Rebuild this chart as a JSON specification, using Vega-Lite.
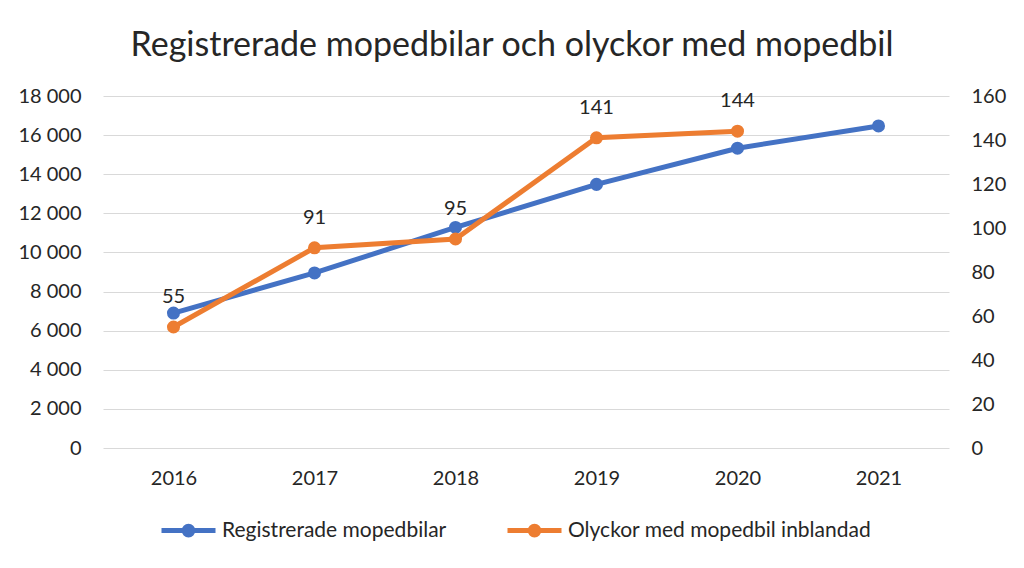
{
  "$schema": "https://vega.github.io/schema/vega-lite/v6.json",
  "width": 846,
  "height": 352,
  "autosize": "none",
  "padding": {"left": 103, "top": 96, "right": 75, "bottom": 120},
  "background": "white",
  "title": {
    "text": "Registrerade mopedbilar och olyckor med mopedbil",
    "font": "Lato",
    "fontSize": 34,
    "fontWeight": "normal",
    "color": "#262626",
    "anchor": "middle",
    "dx": -14,
    "offset": 23
  },
  "config": {
    "view": {"stroke": null},
    "font": "Lato",
    "axis": {
      "labelFont": "Lato",
      "labelFontSize": 20,
      "labelColor": "#262626",
      "domain": false,
      "ticks": false,
      "tickSize": 0,
      "title": null
    },
    "legend": {
      "labelFont": "Lato",
      "labelFontSize": 21,
      "labelColor": "#262626",
      "labelLimit": 0
    }
  },
  "data": {
    "values": [
      {"year": "2016", "serie": "Registrerade mopedbilar", "value": 6900},
      {"year": "2017", "serie": "Registrerade mopedbilar", "value": 8950},
      {"year": "2018", "serie": "Registrerade mopedbilar", "value": 11280},
      {"year": "2019", "serie": "Registrerade mopedbilar", "value": 13480},
      {"year": "2020", "serie": "Registrerade mopedbilar", "value": 15330},
      {"year": "2021", "serie": "Registrerade mopedbilar", "value": 16470},
      {"year": "2016", "serie": "Olyckor med mopedbil inblandad", "value": 55},
      {"year": "2017", "serie": "Olyckor med mopedbil inblandad", "value": 91},
      {"year": "2018", "serie": "Olyckor med mopedbil inblandad", "value": 95},
      {"year": "2019", "serie": "Olyckor med mopedbil inblandad", "value": 141},
      {"year": "2020", "serie": "Olyckor med mopedbil inblandad", "value": 144}
    ]
  },
  "encoding": {
    "x": {
      "field": "year",
      "type": "nominal",
      "sort": null,
      "scale": {"domain": ["2016", "2017", "2018", "2019", "2020", "2021"], "padding": 0.5},
      "axis": {"labelAngle": 0, "labelPadding": 20, "grid": false}
    },
    "color": {
      "field": "serie",
      "type": "nominal",
      "scale": {
        "domain": ["Registrerade mopedbilar", "Olyckor med mopedbil inblandad"],
        "range": ["#4472C4", "#ED7D31"]
      },
      "legend": {
        "title": null,
        "orient": "none",
        "direction": "horizontal",
        "legendX": 56,
        "legendY": 405,
        "symbolType": "M-1,0L1,0M-0.16,0A0.16,0.16,0,1,0,0.16,0A0.16,0.16,0,1,0,-0.16,0Z",
        "symbolSize": 2916,
        "symbolStrokeWidth": 5,
        "labelOffset": 4,
        "labelLimit": 0,
        "columnPadding": 50,
        "encode": {
          "symbols": {
            "update": {
              "fill": {"scale": "color", "field": "value"},
              "stroke": {"scale": "color", "field": "value"},
              "strokeWidth": {"value": 5},
              "opacity": {"value": 1}
            }
          }
        }
      }
    }
  },
  "layer": [
    {
      "transform": [{"filter": "datum.serie === 'Registrerade mopedbilar'"}],
      "mark": {"type": "line", "strokeWidth": 5, "point": {"filled": true, "size": 170, "opacity": 1}},
      "encoding": {
        "y": {
          "field": "value",
          "type": "quantitative",
          "scale": {"domain": [0, 18000], "nice": false, "zero": true},
          "axis": {
            "orient": "left",
            "values": [0, 2000, 4000, 6000, 8000, 10000, 12000, 14000, 16000, 18000],
            "labelExpr": "replace(format(datum.value, ',d'), ',', ' ')",
            "labelPadding": 22,
            "grid": true,
            "gridColor": "#D9D9D9",
            "gridWidth": 1
          }
        }
      }
    },
    {
      "transform": [{"filter": "datum.serie === 'Olyckor med mopedbil inblandad'"}],
      "encoding": {
        "y": {
          "field": "value",
          "type": "quantitative",
          "scale": {"domain": [0, 160], "nice": false, "zero": true},
          "axis": {
            "orient": "right",
            "values": [0, 20, 40, 60, 80, 100, 120, 140, 160],
            "labelPadding": 22,
            "grid": false
          }
        }
      },
      "layer": [
        {
          "mark": {"type": "line", "strokeWidth": 5, "point": {"filled": true, "size": 170, "opacity": 1}}
        },
        {
          "mark": {"type": "text", "baseline": "middle", "align": "center", "dy": -30, "fontSize": 20, "font": "Lato", "color": "#262626"},
          "encoding": {
            "text": {"field": "value", "type": "quantitative"},
            "color": {"value": "#262626"}
          }
        }
      ]
    }
  ],
  "resolve": {"scale": {"y": "independent"}}
}
